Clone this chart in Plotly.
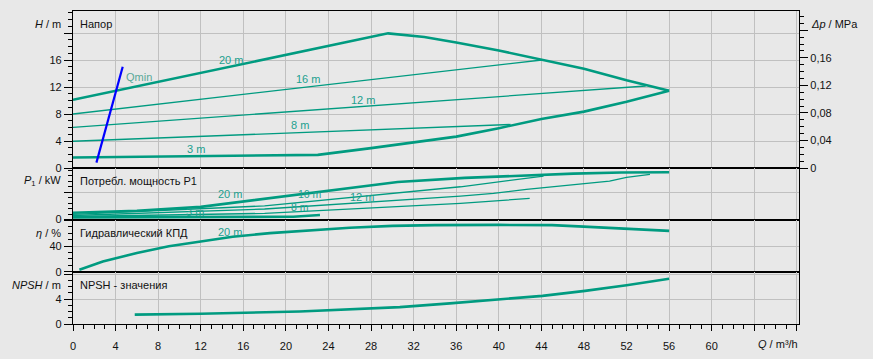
import plotly.graph_objects as go

# ---------------- data ----------------
# Head curves H(Q)
q_max = [0, 29.6, 33, 36, 40, 44, 48, 52, 56]
h_max = [10.1, 19.95, 19.4, 18.6, 17.4, 16.0, 14.7, 13.0, 11.45]
q_min = [0, 8, 15, 23, 28, 32, 36, 40, 44, 48, 52, 56]
h_min = [1.55, 1.7, 1.8, 1.95, 2.95, 3.75, 4.65, 5.9, 7.25, 8.35, 9.8, 11.45]
q_16 = [0, 44.05]
h_16 = [8.0, 16.0]
q_12 = [0, 53.8]
h_12 = [6.03, 12.15]
q_8 = [0, 41.1]
h_8 = [3.96, 6.45]
q_qmin = [2.2, 4.67]
h_qmin = [0.8, 15.0]

# Power P1(Q)
p_q20 = [0, 6, 12, 18.5, 24.3, 30.5, 36.8, 43, 47, 51.5, 56]
p_20 = [0.10, 0.128, 0.185, 0.315, 0.43, 0.55, 0.61, 0.65, 0.672, 0.688, 0.692]
p_q16 = [0, 18, 36.4, 42.6, 44.2]
p_16 = [0.076, 0.20, 0.48, 0.60, 0.637]
p_q12 = [0, 18, 36.4, 39.5, 42.6, 46.7, 50.4, 52, 54.2]
p_12 = [0.059, 0.154, 0.344, 0.384, 0.442, 0.505, 0.564, 0.618, 0.662]
p_q8 = [0, 18, 36.4, 42.9]
p_8 = [0.044, 0.09, 0.237, 0.31]
p_q3 = [0, 10, 20.7, 23.2]
p_3 = [0.032, 0.036, 0.041, 0.066]

# Efficiency
e_q = [0.6, 2.8, 6, 9, 12, 15, 18.5, 22, 26, 30, 34, 40, 45, 47.5, 51, 54.5, 56]
e_v = [3, 16, 29, 39.5, 47, 54.5, 60, 64.5, 68.5, 71.3, 72.5, 72.8, 72.5, 70.5, 67.5, 64.5, 63.5]

# NPSH
n_q = [5.8, 12, 21.3, 30.7, 35.4, 40.1, 44.1, 48.1, 52, 56]
n_v = [1.5, 1.65, 2.0, 2.7, 3.3, 3.9, 4.5, 5.3, 6.2, 7.25]

x_ticks = list(range(0, 69, 4))
x_ticktext = [str(v) if v <= 60 else "" for v in x_ticks]
h_ticks = [0, 4, 8, 12, 16, 20]
h_ticktext = ["0", "4", "8", "12", "16", ""]
dp_ticks = [0, 0.04, 0.08, 0.12, 0.16, 0.2]
dp_ticktext = ["0", "0,04", "0,08", "0,12", "0,16", ""]
M_PER_MPA = 101.97

# ---------------- style ----------------
BG = "#e8e8e8"
GRID = "#c0c0c0"
LINE = "#009b80"
LBL = "#22a08f"
FONT = "Liberation Sans, Arial, sans-serif"
LW = 1.2

L, R, T, B = 73, 799, 11, 324
W, HH = R - L, B - T


def px(x):
    return (x - L) / W


def py(y):
    return (B - y) / HH


fig = go.Figure()


def add(x, y, xa, ya, width, color=LINE):
    fig.add_trace(go.Scatter(x=x, y=y, xaxis=xa, yaxis=ya, mode="lines",
                             line=dict(color=color, width=width),
                             showlegend=False, hoverinfo="skip"))


# head panel
add(q_16, h_16, "x", "y", 1.3)
add(q_12, h_12, "x", "y", 1.3)
add(q_8, h_8, "x", "y", 1.3)
add(q_max, h_max, "x", "y", 2.6)
add(q_min, h_min, "x", "y", 2.6)
add(q_qmin, h_qmin, "x", "y", 2.2, "#0000ff")
# invisible trace for the pressure axis
fig.add_trace(go.Scatter(x=q_max, y=[h / M_PER_MPA for h in h_max], xaxis="x", yaxis="y5",
                         mode="lines", line=dict(width=0, color="rgba(0,0,0,0)"),
                         showlegend=False, hoverinfo="skip"))
# power panel
add(p_q16, p_16, "x2", "y2", 1.3)
add(p_q12, p_12, "x2", "y2", 1.3)
add(p_q8, p_8, "x2", "y2", 1.3)
add(p_q20, p_20, "x2", "y2", 2.6)
add(p_q3, p_3, "x2", "y2", 2.6)
# efficiency
add(e_q, e_v, "x3", "y3", 2.6)
# NPSH
add(n_q, n_v, "x4", "y4", 2.6)

tickfont = dict(family=FONT, size=11, color="#111")
common_y = dict(showline=True, linecolor="black", linewidth=LW, mirror=True,
                gridcolor=GRID, gridwidth=1, zeroline=False, ticks="outside",
                tickcolor="black", ticklen=8, tickwidth=1, tickfont=tickfont,
                tickmode="array", fixedrange=True, automargin=False)
common_x = dict(range=[0, 68.2], showline=True, linecolor="black", linewidth=LW,
                mirror=True, gridcolor=GRID, gridwidth=1, zeroline=False,
                tickmode="array", tickvals=x_ticks, fixedrange=True, automargin=False)

doms = {
    1: [py(168), 1.0],
    2: [py(220), py(168)],
    3: [py(272), py(220)],
    4: [0.0, py(272)],
}

layout = dict(
    width=873, height=359,
    margin=dict(l=L, r=873 - R, t=T, b=359 - B),
    paper_bgcolor=BG, plot_bgcolor=BG,
    font=dict(family=FONT, size=11, color="#111"),
    showlegend=False,
)

# x axes
layout["xaxis"] = dict(common_x, anchor="y", showticklabels=False, ticks="")
layout["xaxis2"] = dict(common_x, anchor="y2", matches="x", showticklabels=False, ticks="")
layout["xaxis3"] = dict(common_x, anchor="y3", matches="x", showticklabels=False, ticks="")
layout["xaxis4"] = dict(common_x, anchor="y4", matches="x", ticks="outside", tickcolor="black",
                        ticklen=6, tickwidth=1, ticktext=x_ticktext, tickfont=tickfont,
                        ticklabelstandoff=6,
                        minor=dict(dtick=1, tick0=0, ticklen=4, tickcolor="black",
                                   ticks="outside", showgrid=False))

layout["yaxis"] = dict(common_y, anchor="x", domain=doms[1], range=[0, (168 - 11) / 6.75],
                       tickvals=h_ticks, ticktext=h_ticktext,
                       minor=dict(dtick=1, tick0=0, ticklen=4, tickcolor="black",
                                  ticks="outside", showgrid=False))
layout["yaxis2"] = dict(common_y, anchor="x2", domain=doms[2], range=[-0.007, 0.755],
                        tickvals=[0, 0.4], ticktext=["0", ""],
                        minor=dict(dtick=0.08, tick0=0, ticklen=4, tickcolor="black",
                                   ticks="outside", showgrid=False))
layout["yaxis3"] = dict(common_y, anchor="x3", domain=doms[3], range=[-0.47, 80.46],
                        tickvals=[0, 40, 80], ticktext=["0", "40", ""],
                        minor=dict(dtick=10, tick0=0, ticklen=4, tickcolor="black",
                                   ticks="outside", showgrid=False))
layout["yaxis4"] = dict(common_y, anchor="x4", domain=doms[4], range=[0, 8.32],
                        tickvals=[0, 4, 8], ticktext=["0", "4", ""],
                        minor=dict(dtick=1, tick0=0, ticklen=4, tickcolor="black",
                                   ticks="outside", showgrid=False))
layout["yaxis5"] = dict(overlaying="y", side="right", anchor="x",
                        range=[0, (168 - 11) / 6.75 / M_PER_MPA], automargin=False,
                        showline=True, linecolor="black", linewidth=LW, showgrid=False,
                        zeroline=False, ticks="outside", tickcolor="black", ticklen=8,
                        tickwidth=1, tickfont=tickfont, tickmode="array",
                        tickvals=dp_ticks, ticktext=dp_ticktext, fixedrange=True,
                        minor=dict(dtick=0.01, tick0=0, ticklen=4, tickcolor="black",
                                   ticks="outside", showgrid=False))

fig.update_layout(**layout)

ann = []


def text_paper(x, y, s, anchor="left", size=11, color="#111"):
    ann.append(dict(x=px(x), y=py(y), xref="paper", yref="paper", text=s, showarrow=False,
                    xanchor=anchor, yanchor="middle", font=dict(family=FONT, size=size, color=color)))


# axis titles and panel names
text_paper(63, 24.5, "<i>H</i> / m", "right")
text_paper(78, 24.5, "Напор")
text_paper(809, 24.5, "<i>Δp</i> / MPa")
text_paper(63, 181, "<i>P</i><sub>1</sub> / kW", "right")
text_paper(78, 181, "Потребл. мощность P1")
text_paper(63, 232.7, "<i>η</i> / %", "right")
text_paper(78, 232.7, "Гидравлический КПД")
text_paper(63, 285, "<i>NPSH</i> / m", "right")
text_paper(78, 285, "NPSH - значения")
text_paper(800, 344, "<i>Q</i> / m³/h", "right")


def text_data(x, y, s, xa, ya, anchor="center", color=LBL, size=11):
    ann.append(dict(x=x, y=y, xref=xa, yref=ya, text=s, showarrow=False, xanchor=anchor,
                    yanchor="middle", font=dict(family=FONT, size=size, color=color)))


# curve labels (head)
text_data(14.85, 16.0, "20 m", "x", "y")
text_data(4.8, 13.5, "Qmin", "x", "y", "left", "#5aa898")
text_data(22.1, 13.2, "16 m", "x", "y")
text_data(27.2, 10.1, "12 m", "x", "y")
text_data(21.3, 6.4, "8 m", "x", "y")
text_data(11.55, 2.8, "3 m", "x", "y")
# curve labels (power)
text_data(14.75, 0.373, "20 m", "x2", "y2")
text_data(22.3, 0.375, "16 m", "x2", "y2", size=10.5)
text_data(27.15, 0.33, "12 m", "x2", "y2")
text_data(21.3, 0.19, "8 m", "x2", "y2", size=10.5)
text_data(11.46, 0.11, "3 m", "x2", "y2")
# efficiency label
text_data(14.75, 61.8, "20 m", "x3", "y3")

fig.update_layout(annotations=ann)
fig.write_html("out.html")
